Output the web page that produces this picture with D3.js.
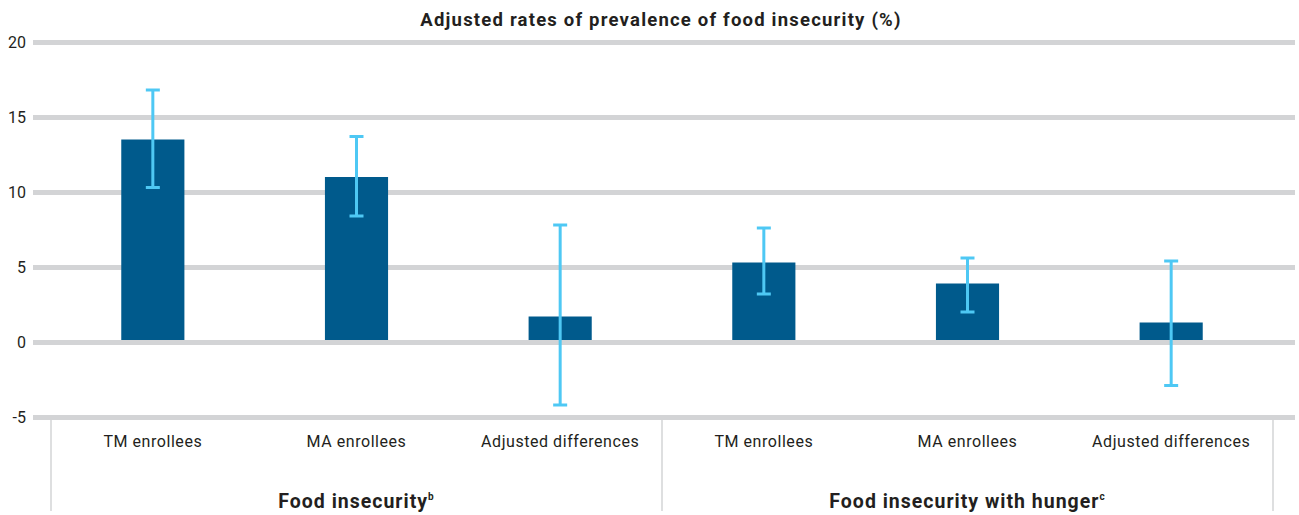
<!DOCTYPE html>
<html>
<head>
<meta charset="utf-8">
<script src="https://cdn.jsdelivr.net/npm/d3@7"></script>
<style>
  body { margin: 0; background: #fff; }
  svg text { font-family: Roboto, "DejaVu Sans", sans-serif; fill: #231f20; }
  svg text.bold { font-weight: bold; }
</style>
</head>
<body>
<div id="chart"></div>
<script>
// data
var groups = ['Food insecurity', 'Food insecurity with hunger'];
var groupSup = ['b', 'c'];
var categories = ['TM enrollees', 'MA enrollees', 'Adjusted differences'];
var values = [13.5, 11.0, 1.7, 5.3, 3.9, 1.3];
var errLow = [10.3, 8.4, -4.2, 3.2, 2.0, -2.9];
var errHigh = [16.8, 13.7, 7.8, 7.6, 5.6, 5.4];
var yTicks = [-5, 0, 5, 10, 15, 20];
var title = 'Adjusted rates of prevalence of food insecurity (%)';

var width = 1299, height = 515;

var svg = d3.select('#chart').append('svg')
    .attr('width', width)
    .attr('height', height);

// flat list of bars
var rows = [];
groups.forEach(function (g, gi) {
    categories.forEach(function (c, ci) {
        var i = gi * categories.length + ci;
        rows.push({ key: g + '|' + c, group: g, cat: c, value: values[i], lo: errLow[i], hi: errHigh[i] });
    });
});

var y = d3.scaleLinear().domain([-5, 20]).range([417, 42]);

var x = d3.scaleBand()
    .domain(rows.map(function (d) { return d.key; }))
    .range([51, 1273])
    .paddingInner(0.69)
    .paddingOuter(0.345);

var xGroup = d3.scaleBand().domain(groups).range([51, 1273]);

// gridlines
var grid = d3.axisLeft(y).tickValues(yTicks).tickSize(-(1295 - 33)).tickFormat(function (d) { return String(d); });
var gy = svg.append('g').attr('transform', 'translate(33,0)').call(grid);
gy.select('.domain').remove();
gy.selectAll('.tick line').attr('stroke', '#d3d4d6').attr('stroke-width', 5);
gy.selectAll('.tick text').attr('x', -7).attr('font-size', 16).attr('fill', '#231f20')
    .style('font-family', 'Roboto, sans-serif');

// title
svg.append('text')
    .attr('class', 'bold')
    .attr('x', 661).attr('y', 26)
    .attr('text-anchor', 'middle')
    .attr('font-size', 18.5)
    .attr('letter-spacing', 1.2)
    .text(title);

// bars
svg.append('g').selectAll('rect')
    .data(rows).enter().append('rect')
    .attr('x', function (d) { return x(d.key); })
    .attr('width', x.bandwidth())
    .attr('y', function (d) { return y(Math.max(0, d.value)); })
    .attr('height', function (d) { return Math.abs(y(d.value) - y(0)) - 2; })
    .attr('fill', '#005a8c');

// error bars
var eb = svg.append('g').selectAll('g').data(rows).enter().append('g')
    .attr('transform', function (d) { return 'translate(' + (x(d.key) + x.bandwidth() / 2) + ',0)'; })
    .attr('stroke', '#4ec8f4').attr('stroke-width', 3);
eb.append('line')
    .attr('y1', function (d) { return y(d.hi); })
    .attr('y2', function (d) { return y(d.lo); });
eb.append('line').attr('x1', -7).attr('x2', 7)
    .attr('y1', function (d) { return y(d.hi); }).attr('y2', function (d) { return y(d.hi); });
eb.append('line').attr('x1', -7).attr('x2', 7)
    .attr('y1', function (d) { return y(d.lo); }).attr('y2', function (d) { return y(d.lo); });

// category axis separators
var seps = [xGroup.range()[0]].concat(groups.map(function (g) { return xGroup(g) + xGroup.bandwidth(); }));
svg.append('g').selectAll('line').data(seps).enter().append('line')
    .attr('x1', function (d) { return d; }).attr('x2', function (d) { return d; })
    .attr('y1', 420).attr('y2', 511)
    .attr('stroke', '#d3d4d6').attr('stroke-width', 1.5);

// category labels
svg.append('g').selectAll('text').data(rows).enter().append('text')
    .attr('x', function (d) { return x(d.key) + x.bandwidth() / 2; })
    .attr('y', 447)
    .attr('text-anchor', 'middle')
    .attr('font-size', 16)
    .attr('letter-spacing', 0.55)
    .text(function (d) { return d.cat; });

// group labels
var gl = svg.append('g').selectAll('text').data(groups).enter().append('text')
    .attr('class', 'bold')
    .attr('x', function (d) { return xGroup(d) + xGroup.bandwidth() / 2; })
    .attr('y', 508)
    .attr('text-anchor', 'middle')
    .attr('font-size', 19.5)
    .attr('letter-spacing', 1);
gl.append('tspan').text(function (d) { return d; });
gl.append('tspan')
    .attr('font-size', 10).attr('dy', -8)
    .text(function (d, i) { return groupSup[i]; });
</script>
</body>
</html>
